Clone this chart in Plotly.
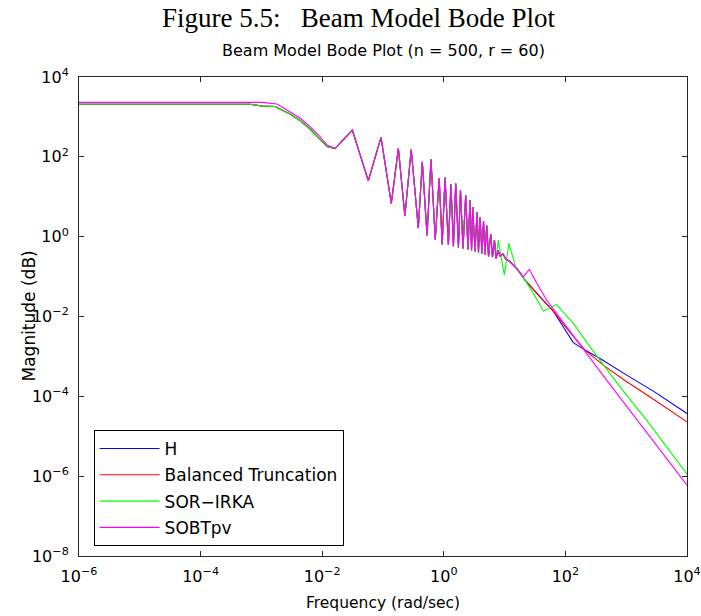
import plotly.graph_objects as go

# ---------------- tick labels ----------------
x_tickvals = [1e-6, 1e-4, 1e-2, 1e0, 1e2, 1e4]
x_ticktext = ["10<sup>−6</sup>", "10<sup>−4</sup>", "10<sup>−2</sup>",
              "10<sup>0</sup>", "10<sup>2</sup>", "10<sup>4</sup>"]
y_tickvals = [1e-8, 1e-6, 1e-4, 1e-2, 1e0, 1e2, 1e4]
y_ticktext = ["10<sup>−8</sup>", "10<sup>−6</sup>", "10<sup>−4</sup>", "10<sup>−2</sup>",
              "10<sup>0</sup>", "10<sup>2</sup>", "10<sup>4</sup>"]

series_names = ["H", "Balanced Truncation", "SOR−IRKA", "SOBTpv"]
series_colors = ["#0000ff", "#ff0000", "#00ff00", "#ff00ff"]

# ---------------- low-frequency plateau / roll-off ----------------
freq_low = [1e-6, 6.5e-4, 1.02e-3, 1.67e-3, 2.95e-3, 4.31e-3, 6.30e-3, 9.2e-3, 1.2e-2, 1.63e-2]
mag_low = [2070, 2070, 1875, 1820, 1180, 813, 498, 279, 181, 161]

freq_low_sobt = [1e-6, 1.02e-3, 1.81e-3, 2.95e-3, 4.31e-3, 6.30e-3, 9.2e-3, 1.2e-2, 1.63e-2]
mag_low_sobt = [2320, 2320, 2100, 1350, 938, 568, 319, 198, 164]

# ---------------- resonant (oscillating) band, shared ----------------
freq_osc = [3.13e-2, 5.73e-2, 9.27e-2, 0.137, 0.179, 0.229, 0.291, 0.381, 0.443, 0.530,
            0.615, 0.724, 0.839, 0.942, 1.047, 1.19, 1.31, 1.44, 1.57, 1.74,
            1.88, 2.07, 2.29, 2.50, 2.70, 2.86, 2.99, 3.26, 3.52, 3.72,
            3.94, 4.25, 4.50, 4.76, 5.08, 5.44, 5.91, 6.32, 6.82, 7.22]
mag_osc = [470, 25.2, 308, 6.84, 163, 3.28, 152, 1.64, 75.4, 1.07,
           86.5, 0.846, 29.4, 0.634, 30.3, 0.615, 20.8, 0.565, 21.7, 0.533,
           14.7, 0.504, 11.0, 0.475, 8.27, 0.449, 5.52, 0.424, 4.14, 0.400,
           3.10, 0.377, 2.46, 0.356, 1.90, 0.317, 1.16, 0.308, 0.822, 0.283]

# ---------------- high-frequency tails ----------------
freq_mid = [7.79, 8.40, 9.41, 10.5, 12.3, 15.8, 21.7, 38.2, 63.2]
mag_mid = [0.461, 0.327, 0.366, 0.275, 0.235, 0.161, 0.0817, 0.0312, 0.01365]

freq_h_tail = [81.5, 135, 210, 371, 1019, 2793, 1e4]
mag_h_tail = [7.36e-3, 2.22e-3, 1.44e-3, 8.91e-4, 3.40e-4, 1.35e-4, 3.72e-5]

freq_bt_tail = [105, 210, 420, 1019, 2173, 1e4]
mag_bt_tail = [5.03e-3, 1.44e-3, 6.05e-4, 2.31e-4, 1.10e-4, 2.30e-5]

freq_sor_tail = [7.87, 9.89, 11.8, 15.4, 21.7, 33.7, 43.4, 71.5, 135, 254, 791, 2173, 1e4]
mag_sor_tail = [0.822, 0.109, 0.679, 0.163, 0.0817, 0.0273, 0.01365, 0.0199, 6.71e-3,
                1.74e-3, 1.73e-4, 2.53e-5, 1.12e-6]

freq_sobt_tail = [7.79, 8.40, 9.41, 10.5, 12.3, 15.8, 20.3, 25.5, 33.7, 49.2, 81.5, 477, 1e4]
mag_sobt_tail = [0.461, 0.327, 0.366, 0.275, 0.235, 0.161, 0.0989, 0.151, 0.0687, 0.0258,
                 9.12e-3, 2.55e-4, 5.94e-7]

series_x = [
    freq_low + freq_osc + freq_mid + freq_h_tail,
    freq_low + freq_osc + freq_mid + freq_bt_tail,
    freq_low + freq_osc + freq_sor_tail,
    freq_low_sobt + freq_osc + freq_sobt_tail,
]
series_y = [
    mag_low + mag_osc + mag_mid + mag_h_tail,
    mag_low + mag_osc + mag_mid + mag_bt_tail,
    mag_low + mag_osc + mag_sor_tail,
    mag_low_sobt + mag_osc + mag_sobt_tail,
]

SANS = "DejaVu Sans"

fig = go.Figure()
for name, color, xs, ys in zip(series_names, series_colors, series_x, series_y):
    fig.add_trace(go.Scatter(x=xs, y=ys, mode="lines", name=name, legendgroup=name,
                             line=dict(color=color, width=1.1)))

axis_common = dict(
    type="log", showgrid=False, zeroline=False, automargin=False,
    ticks="inside", ticklen=5, tickwidth=1, tickcolor="#262626",
    showline=True, linecolor="#262626", linewidth=1, mirror="ticks",
    tickfont=dict(family=SANS, size=16, color="black"),
)

fig.update_layout(
    width=701, height=616,
    margin=dict(l=79, r=14, t=77, b=60, autoexpand=False),
    paper_bgcolor="white", plot_bgcolor="white",
    xaxis=dict(range=[-6, 4], tickvals=x_tickvals, ticktext=x_ticktext,
               ticklabelstandoff=6, **axis_common),
    yaxis=dict(range=[-8, 4], tickvals=y_tickvals, ticktext=y_ticktext,
               ticklabelstandoff=6, **axis_common),
    showlegend=True,
    legend=dict(x=0.024, y=0.021, xanchor="left", yanchor="bottom",
                bgcolor="white", bordercolor="black", borderwidth=1,
                font=dict(family=SANS, size=17, color="black"),
                traceorder="grouped", tracegroupgap=1.2, itemwidth=60),
    annotations=[
        dict(text="Figure 5.5:\u00a0\u00a0\u00a0Beam Model Bode Plot", xref="paper", yref="paper",
             x=0.459, y=(556 - 18) / 479, xanchor="center", yanchor="middle", showarrow=False,
             font=dict(family="Liberation Serif", size=27, color="black")),
        dict(text="Beam Model Bode Plot (n = 500, r = 60)", xref="paper", yref="paper",
             x=0.5, y=(556 - 50) / 479, xanchor="center", yanchor="middle", showarrow=False,
             font=dict(family=SANS, size=16, color="black")),
        dict(text="Frequency (rad/sec)", xref="paper", yref="paper",
             x=0.5, y=(556 - 603) / 479, xanchor="center", yanchor="middle", showarrow=False,
             font=dict(family=SANS, size=15.5, color="black")),
        dict(text="Magnitude (dB)", xref="paper", yref="paper", textangle=-90,
             x=(28 - 79) / 608, y=0.5, xanchor="center", yanchor="middle", showarrow=False,
             font=dict(family=SANS, size=17, color="black")),
    ],
)

fig.write_html("out.html")
